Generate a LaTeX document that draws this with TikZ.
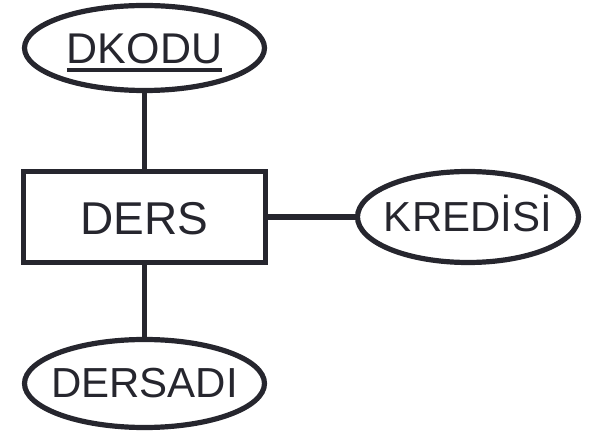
\documentclass[tikz,border=0pt]{standalone}
\usepackage{fontspec}
\setmainfont{Liberation Sans}
\usepackage{tikz}
\usetikzlibrary{positioning, shapes.geometric}
\definecolor{erInk}{RGB}{38,38,46}
% key attribute: text with a heavy rule under it
\newcommand{\pkey}[1]{\setbox0=\hbox{#1}\leavevmode\rlap{\rule[-8pt]{\wd0}{4pt}}\box0}
% label that does not push the ellipse wider
\newcommand{\lbl}[1]{\makebox[0pt]{#1}}
\tikzset{
  erShape/.style={
    draw=erInk,
    line width=5.2pt,
    text=erInk,
    inner sep=0pt,
    outer sep=0pt,
    text depth=0pt,
    font=\fontsize{42}{48}\selectfont
  },
  entityNode/.style={erShape, rectangle, minimum width=242pt, minimum height=91pt,
    text height=36pt, font=\fontsize{46}{52}\selectfont},
  attrNode/.style={erShape, ellipse},
  erLink/.style={draw=erInk, line width=5.2pt}
}

\begin{document}
\begin{tikzpicture}[x=1pt, y=-1pt]
  \useasboundingbox (0,0) rectangle (594,435);

  \node[entityNode] (ders) at (144.5,217) {DERS};
  \node[attrNode, above=81pt of ders, minimum width=240pt, minimum height=85pt,
        text height=32pt, font=\fontsize{43}{49}\selectfont] (dkodu) {\lbl{\pkey{DKODU}}};
  \node[attrNode, right=92pt of ders, minimum width=221pt, minimum height=91pt,
        text height=30pt] (kredisi) {\lbl{KREDİSİ}};
  \node[attrNode, below=77pt of ders, minimum width=240pt, minimum height=88pt,
        text height=28pt] (dersadi) {\lbl{DERSADI}};

  \draw[erLink] (dkodu) -- (ders);
  \draw[erLink] (ders) -- (kredisi);
  \draw[erLink] (ders) -- (dersadi);
\end{tikzpicture}
\end{document}
